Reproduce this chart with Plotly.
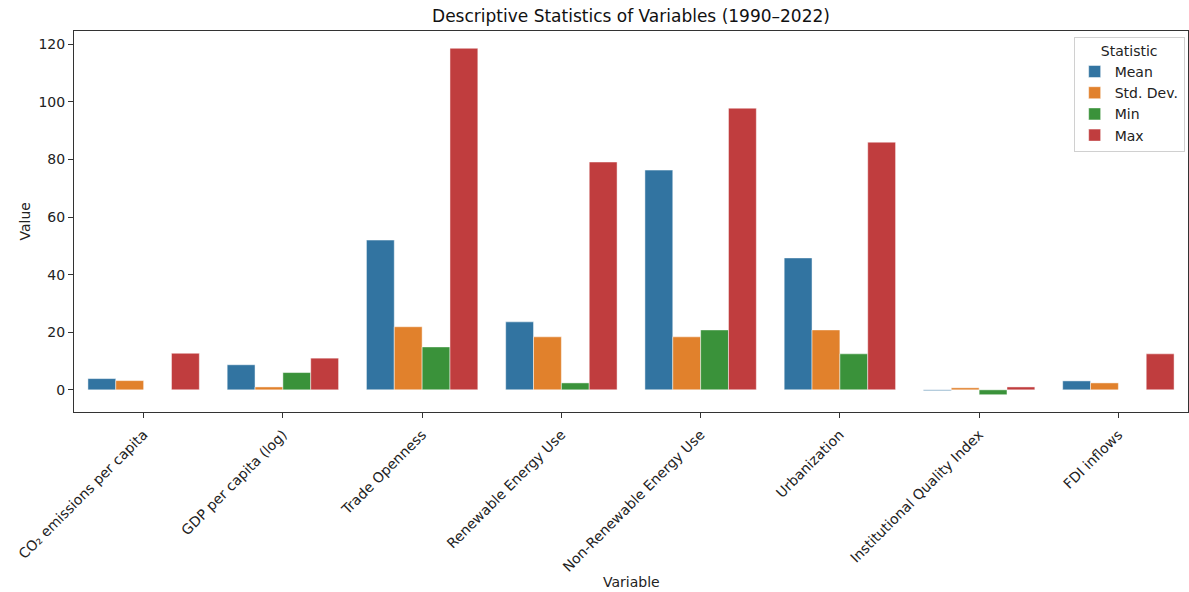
import plotly.graph_objects as go

variables = ["CO₂ emissions per capita", "GDP per capita (log)", "Trade Openness",
             "Renewable Energy Use", "Non-Renewable Energy Use", "Urbanization",
             "Institutional Quality Index", "FDI inflows"]
mean_vals = [3.9, 8.7, 52.0, 23.6, 76.3, 45.8, -0.3, 3.1]
std_vals = [3.2, 1.0, 21.9, 18.4, 18.4, 20.8, 0.7, 2.4]
min_vals = [0.0, 6.0, 14.9, 2.4, 20.8, 12.5, -1.7, 0.0]
max_vals = [12.7, 11.0, 118.6, 79.1, 97.8, 86.0, 1.0, 12.5]

series = [("Mean", mean_vals, "#3274a1"), ("Std. Dev.", std_vals, "#e1812c"),
          ("Min", min_vals, "#3a923a"), ("Max", max_vals, "#c03d3e")]

font = "DejaVu Sans"
fig = go.Figure()
for name, vals, color in series:
    fig.add_trace(go.Bar(x=variables, y=vals, name=name, marker_color=color,
                         marker_line_color="rgba(255,255,255,0.6)", marker_line_width=0.8))

fig.update_layout(
    width=1189, height=592,
    margin=dict(l=74, r=1, t=31, b=180),
    paper_bgcolor="white", plot_bgcolor="white",
    barmode="group", bargap=0.2, bargroupgap=0,
    font=dict(family=font, size=14, color="#222"),
    title=dict(text="Descriptive Statistics of Variables (1990–2022)", xref="paper", x=0.5,
               xanchor="center", y=0.973, yanchor="middle", font=dict(size=17, color="#111")),
    legend=dict(title=dict(text="Statistic", side="top center", font=dict(size=14)),
                x=0.997, xanchor="right", y=0.985, yanchor="top",
                bordercolor="#d0d0d0", borderwidth=1, bgcolor="rgba(255,255,255,0.8)",
                font=dict(size=14), itemwidth=30, tracegroupgap=2),
    showlegend=True,
)
fig.update_xaxes(range=[-0.5, 7.5], tickangle=-45, showline=True, linecolor="#333", linewidth=1,
                 mirror=True, ticks="outside", ticklen=5, tickcolor="#333", showgrid=False,
                 ticklabelstandoff=3, tickfont=dict(size=14, color="#222"))
fig.update_yaxes(range=[-7.7, 124.6], tickvals=[0, 20, 40, 60, 80, 100, 120], showline=True,
                 linecolor="#333", linewidth=1, mirror=True, ticks="outside", ticklen=5,
                 tickcolor="#333", showgrid=False, zeroline=False, tickfont=dict(size=14, color="#222"))
fig.add_annotation(text="Variable", xref="paper", yref="paper", x=0.5, y=0, yshift=-170,
                   showarrow=False, font=dict(size=14, color="#222"), xanchor="center", yanchor="middle")
fig.add_annotation(text="Value", xref="paper", yref="paper", x=0, xshift=-50, y=0.5,
                   showarrow=False, textangle=-90, font=dict(size=14, color="#222"),
                   xanchor="center", yanchor="middle")
fig.write_html("out.html", config={"displayModeBar": False},
               post_script="document.body.style.margin='0';document.body.style.overflow='hidden';")
